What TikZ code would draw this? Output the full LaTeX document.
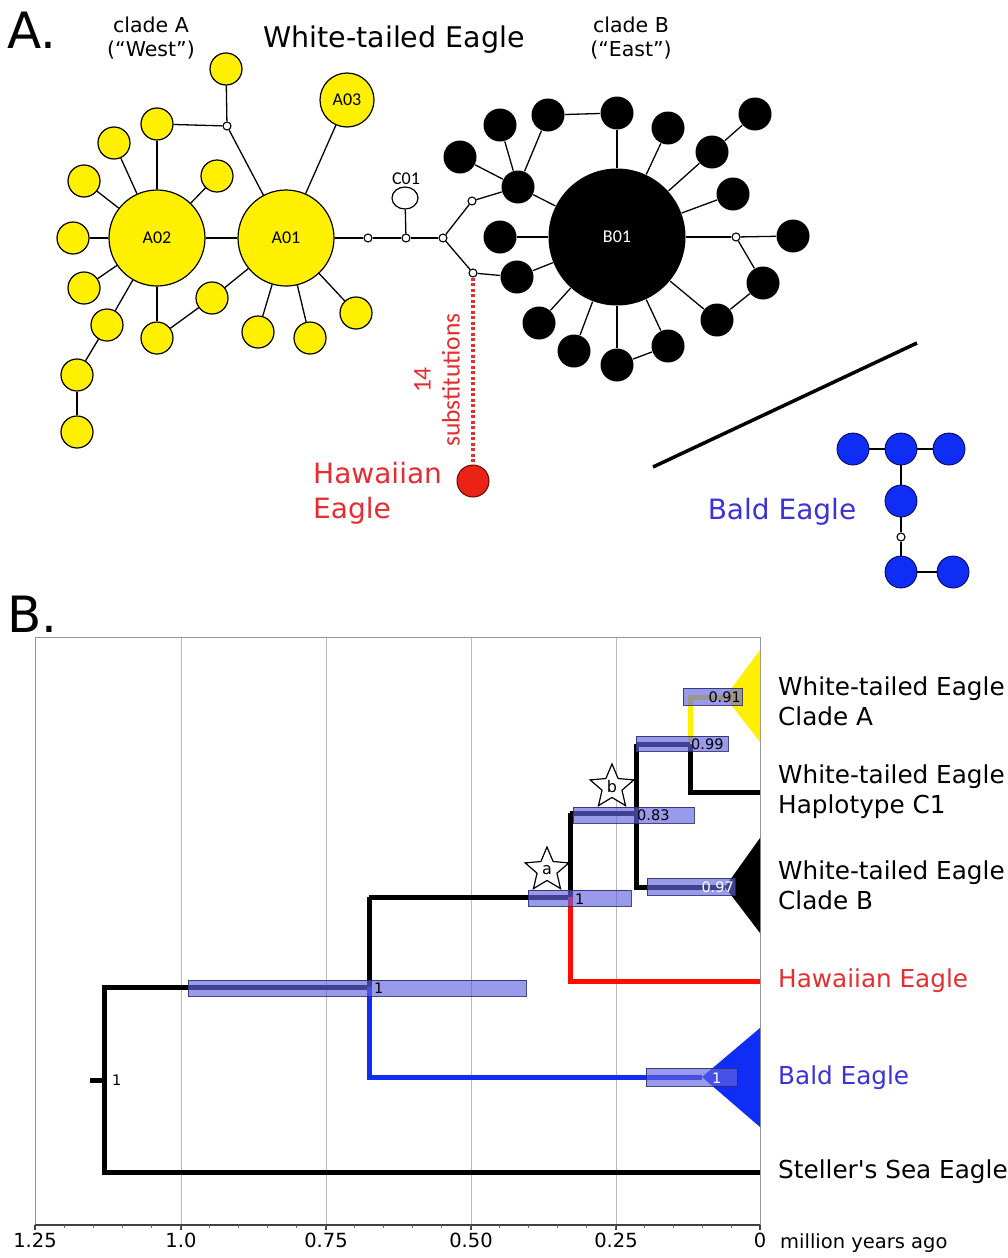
\documentclass[tikz,border=0pt]{standalone}
\usepackage{fontspec}
\setmainfont{DejaVu Sans}[Ligatures=TeXOff]
\newfontfamily\carl{Carlito}
\usetikzlibrary{shapes.geometric}
\definecolor{ylw}{RGB}{255,240,0}
\definecolor{hred}{RGB}{235,35,20}
\definecolor{hredtxt}{RGB}{230,45,50}
\definecolor{bblue}{RGB}{15,45,245}
\definecolor{bbluetxt}{RGB}{60,50,215}
\definecolor{barfill}{RGB}{100,100,225}
\definecolor{barline}{RGB}{40,40,110}
\definecolor{gridc}{RGB}{185,185,185}
\tikzset{
  hap/.style={circle,inner sep=0pt,minimum size=32pt,line width=1.2pt},
  yhap/.style={hap,draw=black,fill=ylw},
  khap/.style={hap,fill=black,minimum size=33pt},
  bhap/.style={hap,draw=black!70!blue,line width=0.8pt,fill=bblue},
  wdot/.style={circle,draw=black,fill=white,inner sep=0pt,minimum size=8pt,line width=1.1pt},
  edge/.style={line width=1.3pt},
  hlab/.style={font=\carl\fontsize{18}{20}\selectfont},
  titletxt/.style={font=\fontsize{28.5}{34}\selectfont},
  cladetxt/.style={font=\fontsize{20.5}{23.5}\selectfont,align=center},
  letter/.style={font=\fontsize{50}{56}\selectfont,anchor=base west,inner sep=0pt},
  br/.style={line width=5pt,line join=miter},
  bar/.style={fill=barfill,fill opacity=0.65,draw=barline,draw opacity=0.85,line width=0.8pt},
  post/.style={font=\fontsize{14.5}{16}\selectfont,inner sep=1pt},
  taxon/.style={font=\fontsize{24.7}{30}\selectfont,anchor=west,align=left,inner sep=0pt},
  ticklab/.style={font=\fontsize{19.5}{22}\selectfont,anchor=north,inner sep=0pt},
  starmark/.style={star,star points=5,star point ratio=2.2,draw=black,fill=white,line width=1.2pt,minimum size=46pt,inner sep=0pt,font=\fontsize{16}{17}\selectfont}
}
\begin{document}
\begin{tikzpicture}[x=1pt,y=-1pt]
\fill[white] (0,0) rectangle (1008,1258);
\useasboundingbox (0,0) rectangle (1008,1258);

% ---------------- Panel A ----------------
\node[letter] (LA) at (7,48) {A.};
\node[cladetxt] (cA) at (151,38) {clade A\\(“West”)};
\node[titletxt] (title) at (394,40) {White-tailed Eagle};
\node[cladetxt] (cB) at (631,38) {clade B\\(“East”)};

% yellow haplotypes
\node[yhap,minimum size=96pt] (A02) at (157,238) {};
\node[yhap,minimum size=96pt] (A01) at (286,238) {};
\node[yhap,minimum size=54pt] (A03) at (347,100) {};
\node[hlab] at (A02) {A02};
\node[hlab] at (A01) {A01};
\node[hlab] at (A03) {A03};
\node[yhap] (y1) at (226,69) {};
\node[yhap] (y2) at (157,124) {};
\node[yhap] (y3) at (114,143) {};
\node[yhap] (y4) at (84,181) {};
\node[yhap] (y5) at (217,176) {};
\node[yhap] (y6) at (73,238) {};
\node[yhap] (y7) at (84,288) {};
\node[yhap] (y8) at (107,325) {};
\node[yhap] (y9) at (77,375) {};
\node[yhap] (y10) at (77,432) {};
\node[yhap] (y11) at (157,338) {};
\node[yhap] (y12) at (212,298) {};
\node[yhap] (y13) at (258,332) {};
\node[yhap] (y14) at (310,338) {};
\node[yhap] (y15) at (356,313) {};
\node[wdot] (wA) at (227,126) {};

% connecting chain
\node[wdot] (w1) at (368,238) {};
\node[wdot] (w2) at (406,238) {};
\node[ellipse,draw=black,fill=white,line width=1.2pt,minimum width=26pt,minimum height=22pt,inner sep=0pt] (C01) at (405,198) {};
\node[hlab,anchor=south,inner sep=1pt] (C01lab) at (406,186) {C01};
\node[wdot] (w3) at (443,238) {};
\node[wdot] (w4) at (472,201) {};
\node[wdot] (w5) at (473,273) {};

% black haplotypes
\node[khap,minimum size=137pt] (B01) at (617,237) {};
\node[hlab,text=white] at (B01) {B01};
\node[khap] (k1) at (518,187) {};
\node[khap] (k2) at (500,125) {};
\node[khap] (k3) at (548,115) {};
\node[khap] (k4) at (617,113) {};
\node[khap] (k5) at (460,157) {};
\node[khap] (k6) at (500,237) {};
\node[khap] (k7) at (517,277) {};
\node[khap] (k8) at (668,128) {};
\node[khap] (k9) at (712,152) {};
\node[khap] (k10) at (755,114) {};
\node[khap] (k11) at (733,194) {};
\node[wdot] (wB) at (736,237) {};
\node[khap] (k12) at (793,236) {};
\node[khap] (k13) at (763,283) {};
\node[khap] (k14) at (717,320) {};
\node[khap] (k15) at (668,346) {};
\node[khap] (k16) at (617,365) {};
\node[khap] (k17) at (574,351) {};
\node[khap] (k18) at (539,323) {};

% Hawaiian
\node[hap,draw=black!60!red,line width=1pt,fill=hred] (H) at (473,481) {};
\node[font=\fontsize{28}{35}\selectfont,text=hredtxt,align=left,anchor=north west,inner sep=0pt] (Hlab) at (313,462) {Hawaiian\\Eagle};
\node[font=\carl\fontsize{25.5}{29}\selectfont,text=hredtxt,rotate=90,align=center] (subs) at (437,380) {14\\substitutions};

% Bald eagle
\node[bhap] (b1) at (853,449) {};
\node[bhap] (b2) at (901,449) {};
\node[bhap] (b3) at (949,449) {};
\node[bhap] (b4) at (901,501) {};
\node[wdot] (wC) at (901,537) {};
\node[bhap] (b5) at (901,572) {};
\node[bhap] (b6) at (953,572) {};
\node[font=\fontsize{28}{34}\selectfont,text=bbluetxt] (Blab) at (782,512) {Bald Eagle};

\coordinate (sepA) at (653,467);
\coordinate (sepB) at (917,343);
\draw[line width=3.5pt] (sepA) -- (sepB);

% edges
\begin{scope}[edge]
\draw (A02) -- (A01);
\draw (A02) -- (y6); \draw (A02) -- (y4); \draw (A02) -- (y3);
\draw (A02) -- (y2); \draw (A02) -- (y5); \draw (A02) -- (y7);
\draw (A02) -- (y8); \draw (y8) -- (y9); \draw (y9) -- (y10);
\draw (A02) -- (y11); \draw (y11) -- (y12); \draw (y12) -- (A01);
\draw (wA) -- (y2); \draw (wA) -- (y1); \draw (wA) -- (A01);
\draw (A01) -- (A03); \draw (A01) -- (y13); \draw (A01) -- (y14); \draw (A01) -- (y15);
\draw (A01) -- (w1); \draw (w1) -- (w2); \draw (w2) -- (C01); \draw (w2) -- (w3);
\draw (w3) -- (w4); \draw (w4) -- (k1); \draw (w3) -- (w5); \draw (w5) -- (k7);
\draw (k1) -- (k2); \draw (k1) -- (k3); \draw (k1) -- (k5); \draw (k1) -- (B01);
\draw (k3) -- (k4); \draw (k4) -- (B01);
\draw (B01) -- (k6); \draw (B01) -- (k7); \draw (B01) -- (k8);
\draw (B01) -- (k9); \draw (k9) -- (k10); \draw (B01) -- (k11);
\draw (B01) -- (wB); \draw (wB) -- (k12); \draw (wB) -- (k13);
\draw (k13) -- (k14); \draw (k14) -- (B01);
\draw (B01) -- (k15); \draw (k15) -- (k16); \draw (k16) -- (B01);
\draw (B01) -- (k17); \draw (B01) -- (k18);
\draw (b1) -- (b2); \draw (b2) -- (b3); \draw (b2) -- (b4);
\draw (b4) -- (wC); \draw (wC) -- (b5); \draw (b5) -- (b6);
\end{scope}
\draw[hredtxt,line width=3.2pt,dash pattern=on 3pt off 2.5pt] (w5) -- (H);

% ---------------- Panel B ----------------
\node[letter] (LB) at (7,632) {B.};

% frame and grid
\foreach \gx in {181,326,471,616} \draw[gridc,line width=0.8pt] (\gx,637) -- (\gx,1225);
\draw[gridc!80!black,line width=0.9pt] (35,1225) -- (35,637) -- (760,637) -- (760,1225);
\draw[black!75,line width=1.2pt] (35,1225) -- (760,1225);
\foreach \gx in {35,181,326,471,616,760} \draw[black!75,line width=1.2pt] (\gx,1225) -- (\gx,1230);
\foreach \i in {1,...,24} \draw[black!60,line width=0.8pt] ({35+29*\i},1225) -- ({35+29*\i},1228);
\node[ticklab] (t0) at (35,1233) {1.25};
\node[ticklab] (t1) at (181,1233) {1.0};
\node[ticklab] (t2) at (326,1233) {0.75};
\node[ticklab] (t3) at (471,1233) {0.50};
\node[ticklab] (t4) at (616,1233) {0.25};
\node[ticklab] (t5) at (760,1233) {0};
\node[ticklab,anchor=north west] (myr) at (780,1233) {million years ago};

% tree coordinates
\coordinate (root) at (104,1080);
\coordinate (n1) at (369,987);
\coordinate (n2) at (570,897);
\coordinate (n3) at (636,813);
\coordinate (n4) at (690,744);
\coordinate (nA) at (725,697);
\coordinate (nB) at (725,887);
\coordinate (nBE) at (702,1077);

% triangles
\fill[ylw] (nA) -- (760,650) -- (760,742) -- cycle;
\fill[black] (nB) -- (760,838) -- (760,933) -- cycle;
\fill[bblue] (nBE) -- (760,1028) -- (760,1127) -- cycle;

% branches
\draw[br] (90,1080) -- (root);
\draw[br] (n1) -- (104,987) -- (104,1172) -- (760,1172);
\draw[br] (369,897) -- (369,989);
\draw[br,bblue] (369,987) -- (369,1077) -- (nBE);
\draw[br] (n2) -- (369,897);
\draw[br] (570,813) -- (570,899);
\draw[br,red!90!orange] (570,897) -- (570,981) -- (760,981);
\draw[br] (n3) -- (570,813);
\draw[br] (636,744) -- (636,887) -- (nB);
\draw[br] (n4) -- (636,744);
\draw[br] (690,744) -- (690,792) -- (760,792);
\draw[br,ylw] (690,742) -- (690,697) -- (nA);

% HPD bars
\draw[bar] (683,688) rectangle (742,705);
\draw[bar] (636,736) rectangle (728,751);
\draw[bar] (573,807) rectangle (694,823);
\draw[bar] (647,878) rectangle (735,895);
\draw[bar] (528,890) rectangle (631,906);
\draw[bar] (188,980) rectangle (526,996);
\draw[bar] (646,1068) rectangle (737,1086);

% posterior labels
\node[post,anchor=east] (p91) at (742,697) {0.91};
\node[post,anchor=west] (p99) at (690,744) {0.99};
\node[post,anchor=west] (p83) at (636,815) {0.83};
\node[post,anchor=east,text=white] (p97) at (735,887) {0.97};
\node[post,anchor=west] (p1a) at (574,899) {1};
\node[post,anchor=west] (p1b) at (373,988) {1};
\node[post,anchor=west] (p1r) at (111,1080) {1};
\node[post,anchor=west,text=white] (p1c) at (711,1078) {1};

% stars
\node[starmark] (sa) at (547,870) {a};
\node[starmark] (sb) at (612,787) {b};

% taxon labels
\node[taxon] (tA) at (778,701) {White-tailed Eagle\\Clade A};
\node[taxon] (tC) at (778,792) {White-tailed Eagle\\Haplotype C1};
\node[taxon] (tB) at (778,885) {White-tailed Eagle\\Clade B};
\node[taxon,text=hredtxt] (tH) at (778,981) {Hawaiian Eagle};
\node[taxon,text=bbluetxt] (tBE) at (778,1078) {Bald Eagle};
\node[taxon] (tS) at (778,1172) {Steller's Sea Eagle};
\end{tikzpicture}
\end{document}
